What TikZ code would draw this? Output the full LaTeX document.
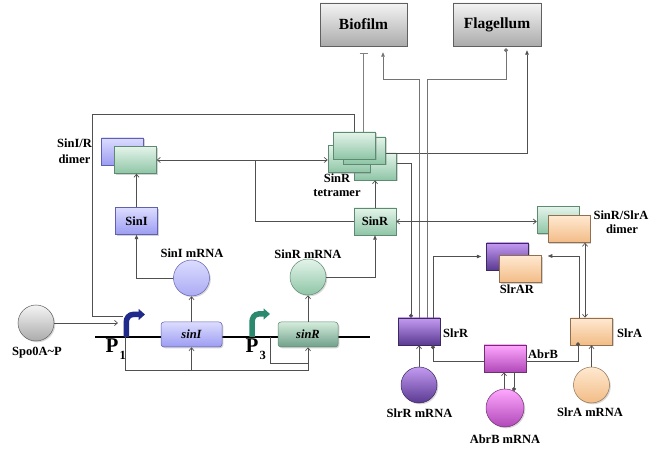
\documentclass[tikz,border=0pt]{standalone}
\usepackage{fontspec}
\setmainfont{Liberation Serif}
\usetikzlibrary{arrows.meta,shadows,calc}
\definecolor{grnT}{HTML}{E4F4EA}\definecolor{grnB}{HTML}{8EC5A6}\definecolor{grnD}{HTML}{5E8A72}
\definecolor{bluT}{HTML}{DCDCFF}\definecolor{bluB}{HTML}{9C9CF2}\definecolor{bluD}{HTML}{6060B0}
\definecolor{gryT}{HTML}{F4F4F4}\definecolor{gryB}{HTML}{ABABAB}\definecolor{gryD}{HTML}{606060}
\definecolor{purT}{HTML}{C49AF2}\definecolor{purB}{HTML}{5A3A92}\definecolor{purD}{HTML}{3A2A60}
\definecolor{magT}{HTML}{FFA8FF}\definecolor{magB}{HTML}{B048B8}\definecolor{magD}{HTML}{703070}
\definecolor{orgT}{HTML}{FFE9D0}\definecolor{orgB}{HTML}{F2BC86}\definecolor{orgD}{HTML}{907050}
\definecolor{genGT}{HTML}{D4ECDC}\definecolor{genGB}{HTML}{6FA08A}
\definecolor{conc}{HTML}{505050}
\definecolor{pone}{HTML}{1F2A8A}\definecolor{pthree}{HTML}{2B8A6E}
\tikzset{
  pbox/.style={rectangle, minimum width=42pt, minimum height=27pt, inner sep=0pt, line width=0.5pt,
    drop shadow={shadow xshift=1.3pt,shadow yshift=-1.3pt,opacity=0.35}},
  bigbox/.style={pbox, minimum width=87pt, minimum height=43pt, top color=gryT, bottom color=gryB, draw=gryD,
    font=\fontsize{15.5}{17}\selectfont\bfseries},
  gene/.style={pbox, rounded corners=3pt, minimum height=25pt, font=\fontsize{12.5}{14}\selectfont\bfseries\itshape},
  circ/.style={circle, minimum size=36pt, inner sep=0pt, line width=0.5pt,
    drop shadow={shadow xshift=1.3pt,shadow yshift=-1.3pt,opacity=0.3}},
  cgrn/.style={top color=grnT, bottom color=grnB, draw=grnD},
  cblu/.style={top color=bluT, bottom color=bluB, draw=bluD},
  cgry/.style={top color=gryT, bottom color=gryB, draw=gryD},
  cpur/.style={top color=purT, bottom color=purB, draw=purD},
  cmag/.style={top color=magT, bottom color=magB, draw=magD},
  corg/.style={top color=orgT, bottom color=orgB, draw=orgD},
  lbl/.style={font=\fontsize{12.5}{14}\selectfont\bfseries, inner sep=0pt},
  con/.style={draw=conc, line width=0.7pt},
  fa/.tip={Triangle[length=4.5pt,width=3.6pt]},
  oa/.tip={Straight Barb[length=3pt,width=5pt]},
  dot/.tip={Circle[length=4pt]},
}
\begin{document}
\begin{tikzpicture}[x=1pt,y=-1pt]
\useasboundingbox[fill=white] (0,0) rectangle (665,449);

% top boxes
\node[bigbox] (Biofilm) at (363.5,24.5) {Biofilm};
\node[bigbox, minimum width=88pt] (Flagellum) at (497,24.5) {Flagellum};

% SinI/R dimer
\node[pbox,cblu] (Db) at (122.5,151.5) {};
\node[pbox,cgrn] (Df) at (135.5,160) {};
% tetramer
\node[pbox,cgrn] (T4) at (375.5,166.5) {};
\node[pbox,cgrn] (T3) at (349,159) {};
\node[pbox,cgrn] (T2) at (364.5,150.5) {};
\node[pbox,cgrn] (T1) at (354.5,145.5) {};
% SinI, SinR
\node[pbox,cblu,lbl] (SinI) at (136.5,221) {SinI};
\node[pbox,cgrn,lbl] (SinR) at (375,221.5) {SinR};
% SinR/SlrA dimer
\node[pbox,cgrn] (SRb) at (558,220) {};
\node[pbox,corg] (SRf) at (569,229) {};
% SlrAR
\node[pbox,cpur] (ARb) at (507.5,256.5) {};
\node[pbox,corg] (ARf) at (520.5,269) {};
% SlrR, AbrB, SlrA
\node[pbox,cpur] (SlrR) at (419,331.5) {};
\node[pbox,cmag] (AbrB) at (505,358.5) {};
\node[pbox,corg] (SlrA) at (591.5,331.5) {};

% circles
\node[circ,cgry] (Spo) at (36,323) {};
\node[circ,top color=bluT,bottom color=bluB!85,draw=bluD] (SinImRNA) at (191.5,278) {};
\node[circ,cgrn] (SinRmRNA) at (308,277) {};
\node[circ,cpur] (SlrRmRNA) at (419,385) {};
\node[circ,cmag,minimum size=38pt] (AbrBmRNA) at (505,408) {};
\node[circ,corg] (SlrAmRNA) at (591.5,385) {};

% DNA
\draw[line width=1.8pt] (95,337) -- (370,337);
\node[gene,cblu,minimum width=61pt] (sinIg) at (191.5,334.5) {sinI};
\node[gene,top color=genGT,bottom color=genGB,draw=grnD,minimum width=60pt] (sinRg) at (308,334.5) {sinR};

% promoters
\draw[line width=5.5pt, draw=pone, -{Triangle[length=6.5pt,width=11pt]}]
  (126.3,337) -- (126.3,322) to[out=90,in=180] (133,314.5) -- (145,314.5);
\draw[line width=5.5pt, draw=pthree, -{Triangle[length=6.5pt,width=11pt]}]
  (252,337) -- (252,322) to[out=90,in=180] (258.5,314) -- (270,314);
\node[anchor=base west, inner sep=0pt, font=\fontsize{21}{21}\selectfont\bfseries] at (105.5,353) {P};
\node[anchor=base west, inner sep=0pt, font=\fontsize{12.5}{13}\selectfont\bfseries] at (119.5,360) {1};
\node[anchor=base west, inner sep=0pt, font=\fontsize{21}{21}\selectfont\bfseries] at (245.5,353) {P};
\node[anchor=base west, inner sep=0pt, font=\fontsize{12.5}{13}\selectfont\bfseries] at (259.5,360) {3};

% labels
\node[lbl,anchor=base] at (74.5,148) {SinI/R};
\node[lbl,anchor=base] at (74.5,164) {dimer};
\node[lbl,anchor=base] at (337,183) {SinR};
\node[lbl,anchor=base] at (337,197) {tetramer};
\node[lbl,anchor=base] at (192,258) {SinI mRNA};
\node[lbl,anchor=base] at (308,259) {SinR mRNA};
\node[lbl,anchor=base] at (37,356) {Spo0A\textasciitilde P};
\node[lbl,anchor=base] at (621,220) {SinR/SlrA};
\node[lbl,anchor=base] at (622,234) {dimer};
\node[lbl,anchor=base] at (517,294) {SlrAR};
\node[lbl,anchor=base west] at (443,338) {SlrR};
\node[lbl,anchor=base west] at (617,338) {SlrA};
\node[lbl,anchor=base west] at (528,359) {AbrB};
\node[lbl,anchor=base] at (419.5,417.5) {SlrR mRNA};
\node[lbl,anchor=base] at (505,443) {AbrB mRNA};
\node[lbl,anchor=base] at (590,416.5) {SlrA mRNA};

% connectors (left part)
\draw[con,-fa] (SinImRNA.west) -| (SinI.south);
\draw[con,-oa] (SinI.north) -- (SinI.north |- Df.south);
\draw[con,-oa] (sinIg.north) -- (SinImRNA.south);
\draw[con,-oa] (sinRg.north) -- (SinRmRNA.south);
\draw[con,-fa] (SinRmRNA.east) -| (SinR.south);
\draw[con,-oa] (SinR.north) -- (SinR.north |- T4.south);
\coordinate (J) at (255,160);
\draw[con] (SinR.west) -| (J);
\draw[con,-oa] (J) -- (Df.east);
\draw[con,-oa] (J) -- (J -| T3.west);
\coordinate (tp1) at (92,114);
\coordinate (tp2) at (92,316);
\coordinate (tp3) at (123,316);
\draw[con] (T1.north) |- (tp1) -- (tp2) -- (tp3);
\coordinate (spoend) at (118,323);
\draw[con,-oa] (Spo.east) -- (spoend);
\coordinate (fb) at (125.5,370);
\coordinate (fbtop) at (125.5,337);
\draw[con,-oa] (fbtop) -- (fb) -- (fb -| sinRg.south) -- (sinRg.south);
\draw[con,-oa] (fb -| sinIg.south) -- (sinIg.south);
\coordinate (p3b) at (270,337);
\draw[con] (p3b) |- ($(sinRg.south)+(0,16)$);

% connectors (top)
\draw[con,draw=gray, -{Bar[width=8pt]}] (T1.north -| Biofilm.south) -- ([yshift=-7pt]Biofilm.south);
\draw[con,-fa] ([yshift=-2.5pt]T2.east) -| ([xshift=30pt,yshift=-4pt]Flagellum.south);
\draw[con,-dot] ([yshift=3.5pt]T4.east) -| ([xshift=-8pt]SlrR.north);
\draw[con,draw=gray!90!black,-fa] (SlrR.north) |- ($(Biofilm.south)+(19.5,33)$) -- ([xshift=19.5pt,yshift=-6pt]Biofilm.south);
\draw[con,draw=gray!90!black,-dot] ([xshift=8pt]SlrR.north) |- ($(Flagellum.south)+(9,33)$) -- ([xshift=9pt,yshift=-2pt]Flagellum.south);

% connectors (right)
\draw[con,-fa] ([xshift=14pt]SlrR.north) |- ([xshift=-5pt]ARb.west);
\draw[con,-fa] ([xshift=-12.5pt]SlrA.north) |- ([xshift=6pt,yshift=13pt]ARf.east);
\draw[con,oa-oa] ([xshift=-6.5pt]SlrA.north) -- ([xshift=-6.5pt]SlrA.north |- SRf.south);
\draw[con,oa-oa] (SinR.east) -- (SinR.east -| SRb.west);
\draw[con,-oa] (SlrRmRNA.north) -- (SlrR.south);
\draw[con,-oa] (SlrAmRNA.north) -- (SlrA.south);
\draw[con,-oa] ([xshift=-1pt]AbrBmRNA.north) -- ([xshift=-1pt]AbrB.south);
\draw[con,-dot] (AbrBmRNA.62 |- AbrB.south) -- (AbrBmRNA.62);
\draw[con,-dot] ([yshift=-2.5pt]AbrB.west) -| ([xshift=14pt]SlrR.south);
\draw[con,-dot] ([yshift=-2.5pt]AbrB.east) -| ([xshift=-13.5pt,yshift=3pt]SlrA.south);
\end{tikzpicture}
\end{document}
